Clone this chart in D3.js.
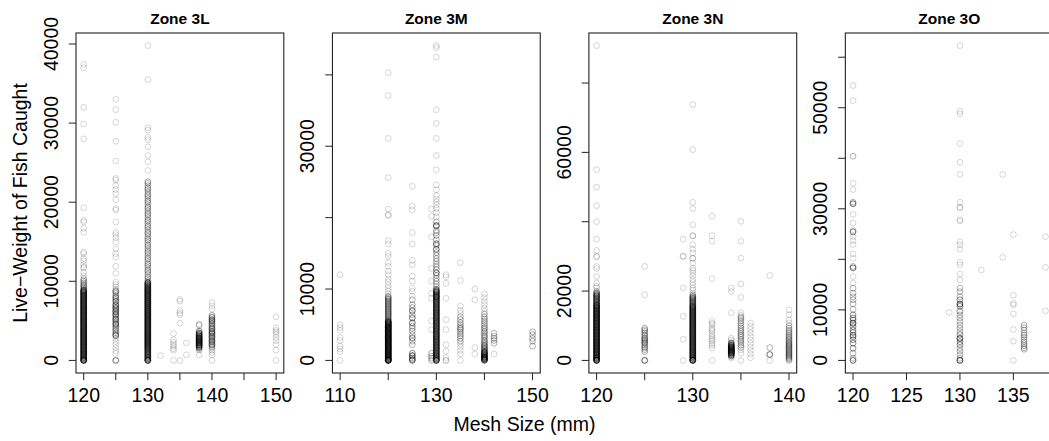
<!DOCTYPE html>
<html>
<head>
<meta charset="utf-8">
<script src="https://cdn.jsdelivr.net/npm/d3@7"></script>
<style>
  body { margin: 0; background: #fff; }
  text { font-family: "Liberation Sans", Arial, sans-serif; fill: #000; }
</style>
</head>
<body>
<svg id="chart" width="1049" height="441"></svg>
<script>
// ---- data: live-weight (kg) of catches, grouped by mesh size (mm) ----
// each mesh size holds bands of [catches recorded at each weight, [weights]]

const zoneTitles = ["Zone 3L", "Zone 3M", "Zone 3N", "Zone 3O"];

// Zone 3L
const mesh3L = [120, 125, 130, 132, 134, 135, 136, 138, 140, 150];
const catch3L = [
  [[1, [37400, 37000, 32000, 29900, 28000, 19300, 17700, 17500, 16700, 16200,
        13700, 13500, 12900, 12600, 12100, 11800, 11700, 11100, 10700, 10400]],
   [2, [10200, 10000, 9800, 9600, 9450, 9300, 9150]],
   [3, [8950, 8870, 8790, 8700, 8640, 8550, 8460, 8390, 8300, 8220, 8130, 8060, 7970, 7880, 7810, 7720, 7640, 7550,
        7480, 7390, 7300, 7230, 7140, 7060, 6970, 6900, 6810, 6720, 6650, 6560, 6480, 6390, 6320, 6230, 6140, 6070,
        5980, 5900, 5810, 5740, 5650, 5560, 5490, 5400, 5320, 5230, 5160, 5070, 4980, 4910, 4820, 4740, 4650, 4580,
        4490, 4400, 4330, 4240, 4160, 4070, 4000, 3910, 3820, 3750, 3660, 3580, 3490, 3420, 3330, 3240, 3170, 3080,
        3000, 2910, 2840, 2750, 2660, 2590, 2500, 2420, 2330, 2260, 2170, 2080, 2010, 1920, 1840, 1750, 1680, 1590,
        1500, 1430, 1340, 1260, 1170, 1100, 1010, 920, 850, 760, 680, 590, 520, 430, 340, 270, 180, 100]],
   [10, [0]]],
  [[1, [33000, 31700, 30100, 27700, 25200, 23000, 22800, 22100, 21600, 21100, 20300, 19200, 19000, 17500, 16200,
        15900, 15500, 15000, 14100, 13500, 13100, 11900, 11000, 9900, 9600, 9300, 9000]],
   [2, [8800, 8700, 8500, 8200, 8000, 7900, 7700, 7500, 7400, 7100, 7000, 6900, 6700, 6600, 6500, 6300, 6200, 6100,
        5900, 5800, 5700, 5500, 5300, 5200, 5100, 4900, 4700, 4600, 4500, 4300, 4100, 3900, 3700, 3500, 3300, 3200, 3100]],
   [1, [2800, 2400, 2000, 1600, 1200, 900]],
   [4, [0]]],
  [[1, [39800, 35500, 29400, 29100, 28200, 27900, 27000, 25900, 25100, 24000]],
   [2, [22600, 22400, 22100, 21800, 21600, 21300, 21000, 20800, 20500, 20200, 20000, 19700, 19400, 19200, 18900, 18600,
        18400, 18100, 17800, 17600, 17300, 17000, 16800, 16500, 16200, 16000, 15700, 15400, 15200, 14900, 14600, 14400,
        14100, 13800, 13600, 13300, 13000, 12800, 12500, 12200, 12000, 11700, 11400, 11200, 10900, 10600, 10400, 10100]],
   [3, [9900, 9820, 9700, 9610, 9530, 9420, 9350, 9240, 9160, 9070, 8980, 8910, 8820, 8730, 8660, 8570, 8480,
        8410, 8320, 8230, 8160, 8070, 7980, 7910, 7820, 7730, 7660, 7570, 7480, 7410, 7320, 7230, 7160, 7070,
        6980, 6910, 6820, 6730, 6660, 6570, 6480, 6410, 6320, 6230, 6160, 6070, 5980, 5910, 5820, 5730, 5660,
        5570, 5480, 5410, 5320, 5230, 5160, 5070, 4980, 4910, 4820, 4730, 4660, 4570, 4480, 4410, 4320, 4230,
        4160, 4070, 3980, 3910, 3820, 3730, 3660, 3570, 3480, 3410, 3320, 3230, 3160, 3070, 2980, 2910, 2820,
        2730, 2660, 2570, 2480, 2410, 2320, 2230, 2160, 2070, 1980, 1910, 1820, 1730, 1660, 1570, 1480, 1400,
        1300, 1200, 1100, 1000, 900, 800, 700, 600, 500, 400, 300, 200, 100]],
   [8, [0]]],
  [[1, [600]]],
  [[1, [3400, 2600, 2300, 2000, 1800, 1500, 1300, 0]]],
  [[1, [7700, 7500, 6300, 6000, 5800, 4700, 0]]],
  [[1, [2200, 700]]],
  [[1, [4600, 4500, 4400]],
   [3, [3700, 3500, 3400, 3300, 3200, 3100, 3000, 2900, 2850, 2800, 2700, 2650, 2600, 2500,
        2450, 2400, 2300, 2250, 2200, 2100, 2000, 1950, 1900, 1800, 1700, 1600]],
   [1, [1500, 1400, 1300, 700]]],
  [[1, [7300, 6900, 6500]],
   [2, [5700, 5500, 5400, 5200, 5100, 5000, 4900, 4700, 4600, 4400, 4300, 4100, 4000, 3900,
        3700, 3600, 3500, 3400, 3300, 3100, 3000, 2900, 2800, 2600, 2500, 2400, 2300, 2100, 2000, 1900, 1700]],
   [1, [1500, 1300, 1000, 700, 0]]],
  [[1, [5500, 4100, 3800, 3600, 3300, 2900, 2500, 2000, 1300, 0]]]
];

// Zone 3M
const mesh3M = [110, 120, 125, 129, 130, 132, 135, 138, 140, 142, 150];
const catch3M = [
  [[1, [12000, 5000, 4600, 4200, 3200, 2800, 2000, 1600, 1200, 0]]],
  [[1, [40300, 37100, 31100, 25600, 21200, 20400, 20300, 16800, 16300, 15000, 14600, 13700, 13200, 12500, 12000,
        11400, 11000, 10500, 10100, 9700, 9300, 9000]],
   [2, [8900, 8750, 8600, 8480, 8320, 8200, 8050, 7900, 7780, 7620, 7500, 7350, 7200, 7080, 6920, 6800, 6650,
        6500, 6380, 6220, 6100, 5950, 5800, 5680, 5550]],
   [3, [5470, 5390, 5340, 5250, 5200, 5110, 5060, 4970, 4930, 4840, 4760, 4710, 4620, 4580, 4490, 4410, 4370,
        4280, 4200, 4150, 4060, 4010, 3920, 3870, 3790, 3700, 3660, 3570, 3510, 3440, 3360, 3310, 3220, 3170,
        3080, 3030, 2950, 2870, 2820, 2730, 2690, 2600, 2540, 2460, 2380, 2330, 2250, 2190, 2100, 2060, 1970,
        1890, 1840, 1760, 1700, 1620, 1560, 1470, 1420, 1340, 1260, 1210, 1130, 1070, 980, 940, 850, 770, 720,
        640, 580, 500, 450, 360, 290, 230, 150, 90, 40]],
   [10, [0]]],
  [[1, [24400, 21600, 21100, 17900, 16300, 14000, 13400, 11800, 11100, 10100, 9700, 9000]],
   [2, [8500, 7800, 7400, 7000, 6900, 6400, 6000, 5900, 5300, 5200, 4800, 4500, 4100, 3600, 3200, 3100, 2700, 2200]],
   [3, [1000, 700, 600, 300, 100, 0]]],
  [[1, [21200, 20200, 17300, 12900, 11100, 9400, 8700, 5500, 4300]],
   [2, [1000, 600, 300, 0]]],
  [[1, [44100, 43800, 42500, 35100, 33200, 31100, 28700, 26700, 24600, 23900, 23100, 22600, 22200, 21800, 21300,
        20700, 20100]],
   [2, [19400, 18900, 18900, 18800, 18200, 17900, 17500, 16900, 16400, 16300, 16100, 15600, 15500,
        15100, 14700, 14300, 13900, 13500, 13100, 12700, 12300, 12200, 11900, 11500, 11100, 10700, 10300]],
   [3, [9950, 9830, 9700, 9620, 9480, 9390, 9260, 9150, 9030, 8940, 8880, 8790, 8660, 8570, 8430, 8340, 8220,
        8110, 7990, 7900, 7770, 7680, 7540, 7450, 7330, 7220, 7100, 7010, 6880, 6790, 6650, 6560, 6440, 6330,
        6210, 6120, 5990, 5900, 5760, 5670, 5550, 5440, 5320, 5230, 5100, 5010, 4870, 4780, 4660, 4550, 4430,
        4340, 4210, 4120, 3980, 3890, 3770, 3660, 3540, 3450, 3320, 3230, 3090, 3000, 2880, 2770, 2650, 2560,
        2430, 2340, 2200, 2110, 1990, 1880, 1760, 1670, 1540, 1450, 1310, 1220, 1100, 990, 870, 780, 650, 560,
        420, 330, 210, 120]],
   [8, [0]]],
  [[1, [12000, 11700, 10800, 8700, 5700, 4300, 2200, 1300, 400]], [2, [0]]],
  [[1, [13700, 11200, 7600, 7000, 6600]],
   [2, [6100, 5700, 5300, 5000, 4700, 4500, 4300, 4000, 3700, 3400, 3100, 2700]],
   [1, [2300, 1900, 1400, 900, 0]]],
  [[1, [10000, 8500, 1800, 900]]],
  [[1, [9300, 8800, 8300, 7800, 7300, 6900]],
   [2, [6500, 6100, 5800, 5500, 5200, 4900, 4600, 4400, 4100, 3900, 3600, 3400, 3200, 2900, 2700, 2500, 2300]],
   [3, [2100, 1900, 1700, 1500, 1300, 1200, 1100, 1000, 900, 800, 700, 600, 500, 450, 400, 300, 250, 200, 100, 50, 0]]],
  [[2, [3800, 3400, 3100, 2800, 2400]], [1, [900]]],
  [[2, [4000, 3600, 3100, 2700, 2000]]]
];

// Zone 3N
const mesh3N = [120, 125, 129, 130, 132, 134, 135, 136, 138, 140];
const catch3N = [
  [[1, [90800, 55000, 50000, 44600, 40000, 35000, 31700, 30000, 29900, 27100, 26500, 24200, 22300, 21400, 20900]],
   [2, [19900, 19500, 19300, 19100, 18900, 18700, 18600, 18400, 18200, 18000, 17800, 17700, 17500, 17300, 17100,
        16900, 16800, 16600, 16400, 16200]],
   [3, [16000, 15900, 15700, 15500, 15300, 15100, 15000, 14800, 14600, 14400,
        14200, 14100, 13900, 13700, 13500, 13300, 13200, 13000, 12800, 12600, 12400, 12300, 12100, 11900, 11700,
        11500, 11400, 11200, 11000, 10800, 10600, 10500, 10300, 10100, 9900, 9700, 9600, 9400, 9200, 9000, 8800,
        8700, 8500, 8300, 8100, 7900, 7800, 7600, 7400, 7200, 7000, 6900, 6700, 6500, 6300, 6100, 6000, 5800,
        5600, 5400, 5200, 5100, 4900, 4700, 4500, 4300, 4200, 4000, 3800, 3600, 3400, 3300, 3100, 2900, 2700,
        2500, 2400, 2200, 2000, 1800, 1600, 1500, 1300, 1100, 900, 700, 600, 400, 200]],
   [10, [0]]],
  [[1, [27100, 18900]],
   [2, [9300, 8800, 8400, 7900, 7400, 7000, 6500, 6200, 5900, 5500, 5200, 4900, 4500, 4000, 3600, 3100, 2500]],
   [5, [0]]],
  [[1, [35000]], [2, [30000]], [1, [20900, 12700, 6100, 0]]],
  [[1, [73800, 60800, 45600, 43800, 39100, 36000, 35900, 33400, 32100, 31000, 29500, 29400, 28100, 26600, 26000,
        25200, 24400, 23300, 22500, 21700, 20900, 20300, 19400]],
   [2, [18900, 18500, 18300, 18100, 17900, 17700, 17500, 17300, 17100, 16900, 16700, 16500, 16300, 16100, 15900]],
   [3, [15700, 15500, 15300, 15100, 14900, 14700, 14500,
        14300, 14100, 13900, 13700, 13500, 13300, 13100, 12900, 12700, 12500, 12300, 12100, 11900, 11700, 11500,
        11300, 11100, 10900, 10700, 10500, 10300, 10100, 9900, 9700, 9500, 9300, 9100, 8900, 8700, 8500, 8300,
        8100, 7900, 7700, 7500, 7300, 7100, 6900, 6700, 6500, 6300, 6100, 5900, 5700, 5500, 5300, 5100, 4900,
        4700, 4500, 4300, 4100, 3900, 3700, 3500, 3300, 3100, 2900, 2700, 2500, 2300, 2100, 1900, 1700, 1500,
        1300, 1100, 900, 700, 500, 300, 100]],
   [8, [0]]],
  [[1, [41600, 36000, 34400, 23600, 11300, 10700, 10300, 9400, 8900, 8400, 7600, 7000, 6500, 6000, 5500, 4800,
        4300, 3600, 0]]],
  [[1, [20900, 19900, 13700, 6400, 5900, 5400]],
   [3, [5000, 4700, 4400, 4300, 4100, 3900, 3800, 3700, 3500, 3400, 3300,
        3100, 3000, 2900, 2700, 2600, 2500, 2300, 2200, 2100, 1900, 1700, 1500, 1300]],
   [1, [1000, 700]]],
  [[1, [40100, 34400, 29500, 22100, 18200, 13700, 13000]],
   [2, [12500, 12000, 11400, 10700, 10000, 9400, 8800, 8300, 7700, 7200, 6700, 6100, 5600, 5000, 4400, 3800]],
   [1, [3000, 2100, 0]]],
  [[1, [10800, 9800, 8900, 7900, 6900, 5900, 4900, 3900, 2900, 1900, 800]]],
  [[1, [24500]], [2, [3700, 1800, 1600]], [1, [0]]],
  [[1, [14600, 13200, 11700, 10800]],
   [2, [10000, 9300, 8700, 8200, 7700, 7200, 6800, 6400, 6000, 5600, 5200, 4900,
        4600, 4300, 4000, 3700, 3400, 3100, 2800, 2500, 2200, 1900, 1600, 1300, 1000, 700, 400, 0]]]
];

// Zone 3O
const mesh3O = [120, 129, 130, 132, 134, 135, 136, 138];
const catch3O = [
  [[1, [54400, 51400]], [2, [40400]],
   [1, [35100, 33800, 28900, 27200, 25800, 24500, 23700, 22900, 21100, 20200, 16600, 15300]],
   [2, [31300, 31000, 31000, 25500, 25400, 18600, 18300, 18300, 14300, 13300, 12600, 12000, 11200, 10100]],
   [3, [9000, 8400, 8000, 7400, 7300, 6700, 6000, 5500, 5000, 4700, 4100, 3400, 2400]],
   [2, [1400, 400]],
   [4, [0]]],
  [[1, [9500]]],
  [[1, [62300, 49300, 48800, 42900, 39200, 36800, 31300, 30300, 30200, 27800, 27600, 23500, 22900, 22000, 19400,
        18900, 17100, 15900]],
   [2, [14300, 13600, 12600, 9000, 8400, 7700, 7000, 6400, 5700, 2400, 1800, 1100, 400]],
   [3, [12000, 11200, 11100, 10700, 9700, 5100, 4400, 4300, 3700, 3100]],
   [6, [0]]],
  [[1, [17900]]],
  [[1, [36800, 20400]]],
  [[1, [24900, 12900, 11300, 11000, 9200, 6100, 3800, 0]]],
  [[2, [7000, 6500, 6000, 5400, 5000, 4600, 4100, 3700, 3300, 2900, 2500, 2200]]],
  [[1, [24500, 18400, 9800]]]
];

// axis ticks (all ticks, and the ones that carry a label)
const xTicks = [[120, 125, 130, 135, 140, 145, 150], [110, 120, 130, 140, 150], [120, 125, 130, 135, 140], [120, 125, 130, 135]];
const xTickLabels = [[120, 130, 140, 150], [110, 130, 150], [120, 130, 140], [120, 125, 130, 135]];
const yTicks = [[0, 10000, 20000, 30000, 40000], [0, 10000, 20000, 30000, 40000], [0, 20000, 40000, 60000, 80000], [0, 10000, 20000, 30000, 40000, 50000, 60000]];
const yTickLabels = [[0, 10000, 20000, 30000, 40000], [0, 10000, 30000], [0, 20000, 60000], [0, 10000, 30000, 50000]];

const xTitle = "Mesh Size (mm)";
const yTitle = "Live\u2212Weight of Fish Caught";

// ---- layout ----
const width = 1049, height = 441;
const plotLeft = 76, plotStride = 256.45, plotW = 207.8;
const plotTop = 33, plotH = 340;

const svg = d3.select("#chart");

const meshes = [mesh3L, mesh3M, mesh3N, mesh3O];
const catches = [catch3L, catch3M, catch3N, catch3O];

// R style: data range expanded by 4% on each side
function padded(ext) {
  const d = (ext[1] - ext[0]) * 0.04;
  return [ext[0] - d, ext[1] + d];
}

zoneTitles.forEach((title, i) => {
  const points = [];
  meshes[i].forEach((m, j) => {
    catches[i][j].forEach(([n, weights]) => {
      weights.forEach(w => {
        for (let k = 0; k < n; k++) points.push({ mesh: m, weight: w });
      });
    });
  });

  const x = d3.scaleLinear().domain(padded(d3.extent(meshes[i]))).range([0, plotW]);
  const y = d3.scaleLinear().domain(padded(d3.extent(points, d => d.weight))).range([plotH, 0]);

  const g = svg.append("g")
    .attr("transform", `translate(${plotLeft + i * plotStride},${plotTop})`);

  g.append("g")
    .selectAll("circle")
    .data(points)
    .enter().append("circle")
    .attr("cx", d => x(d.mesh))
    .attr("cy", d => y(d.weight))
    .attr("r", 2.9)
    .attr("fill", "none")
    .attr("stroke", "#000")
    .attr("stroke-opacity", 0.16)
    .attr("stroke-width", 1);

  // box
  g.append("rect")
    .attr("x", 0).attr("y", 0)
    .attr("width", plotW).attr("height", plotH)
    .attr("fill", "none")
    .attr("stroke", "#222")
    .attr("stroke-width", 1.1);

  // x ticks
  g.selectAll(".xt")
    .data(xTicks[i])
    .enter().append("line")
    .attr("x1", d => x(d)).attr("x2", d => x(d))
    .attr("y1", plotH).attr("y2", plotH + 7.2)
    .attr("stroke", "#222");

  g.selectAll(".xl")
    .data(xTickLabels[i])
    .enter().append("text")
    .attr("x", d => x(d))
    .attr("y", plotH + 29)
    .attr("text-anchor", "middle")
    .style("font-size", "19.5px")
    .text(d => d);

  // y ticks
  g.selectAll(".yt")
    .data(yTicks[i])
    .enter().append("line")
    .attr("x1", 0).attr("x2", -7.2)
    .attr("y1", d => y(d)).attr("y2", d => y(d))
    .attr("stroke", "#222");

  g.selectAll(".yl")
    .data(yTickLabels[i])
    .enter().append("text")
    .attr("transform", d => `translate(-18,${y(d)}) rotate(-90)`)
    .attr("text-anchor", "middle")
    .style("font-size", "19.5px")
    .text(d => d);

  // panel title
  g.append("text")
    .attr("x", plotW / 2)
    .attr("y", -9.5)
    .attr("text-anchor", "middle")
    .style("font-size", "15.5px")
    .style("font-weight", "bold")
    .text(title);
});

svg.append("text")
  .attr("x", width / 2)
  .attr("y", 431)
  .attr("text-anchor", "middle")
  .style("font-size", "19.5px")
  .text(xTitle);

svg.append("text")
  .attr("transform", `translate(27,${plotTop + plotH / 2}) rotate(-90)`)
  .attr("text-anchor", "middle")
  .style("font-size", "19.5px")
  .text(yTitle);
</script>
</body>
</html>
